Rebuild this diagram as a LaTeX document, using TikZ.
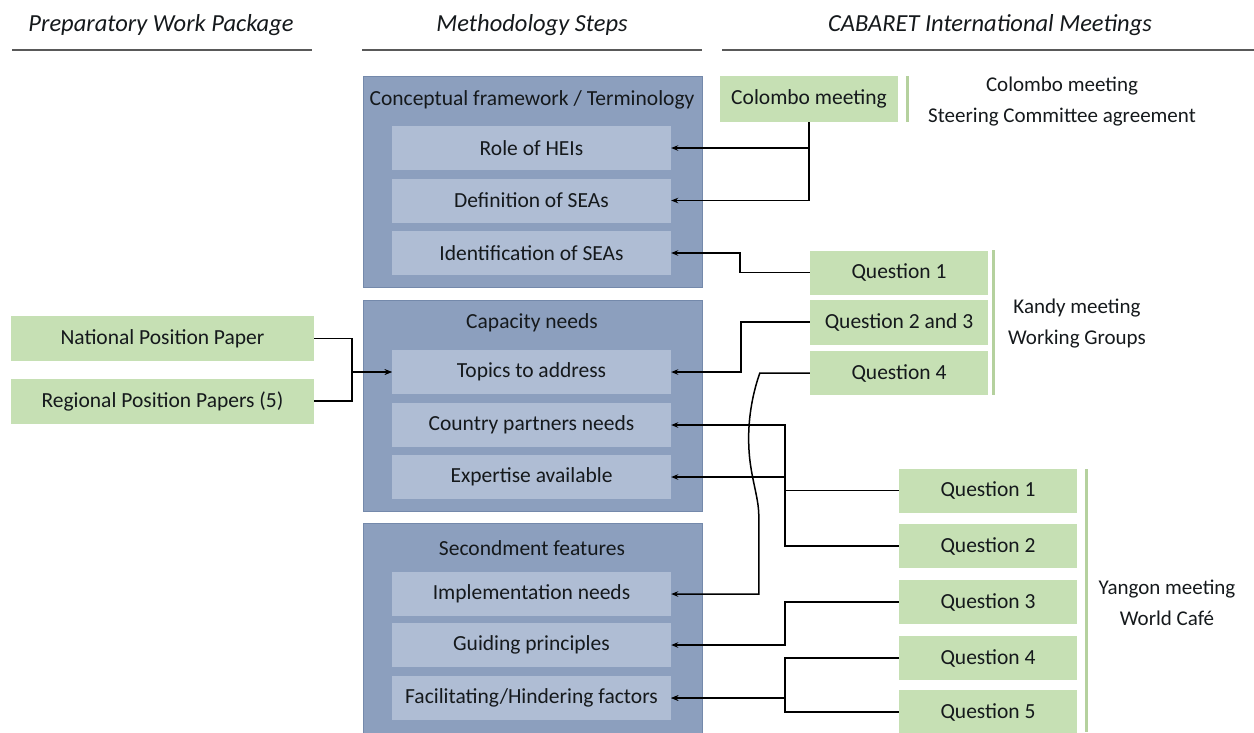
\documentclass[tikz,border=0pt]{standalone}
\usepackage{fontspec}
\setmainfont{Carlito}
\usetikzlibrary{arrows.meta}
\definecolor{bluemid}{HTML}{8C9FBE}
\definecolor{bluedark}{HTML}{7489AB}
\definecolor{bluelight}{HTML}{AFBDD4}
\definecolor{greenfill}{HTML}{C6E0B4}
\definecolor{greenbar}{HTML}{B5D19E}
\definecolor{txt}{HTML}{15191C}
\begin{document}
\begin{tikzpicture}[x=1pt,y=-1pt,
  every node/.style={text=txt, font=\fontsize{21.5}{25}\selectfont, inner sep=0pt},
  outerbox/.style={draw=bluedark, fill=bluemid, line width=1pt, minimum width=339pt},
  innerbox/.style={fill=bluelight, minimum width=279pt, minimum height=44pt},
  greenbox/.style={fill=greenfill, minimum height=45pt},
  header/.style={font=\fontsize{24.5}{28}\selectfont\itshape},
  hline/.style={draw=black!65, line width=1.4pt},
  gbar/.style={draw=greenbar, line width=3pt},
  conn/.style={draw=black, line width=1.5pt},
  arr/.style={-{Stealth[length=7pt,width=5.5pt]}},
  label/.style={align=center, font=\fontsize{21}{31}\selectfont}
]
\useasboundingbox (0,0) rectangle (1254,732);
% headers
\node[header] (h1) at (161,25) {Preparatory Work Package};
\node[header] (h2) at (532,25) {Methodology Steps};
\node[header] (h3) at (990,25) {CABARET International Meetings};
\draw[hline] (12,50) -- (312,50);
\draw[hline] (362,50) -- (702,50);
\draw[hline] (722,50) -- (1254,50);
% outer boxes
\node[outerbox, minimum height=211pt] (b1) at (532.5,181.5) {};
\node[outerbox, minimum height=211pt] (b2) at (532.5,405.5) {};
\node[outerbox, minimum height=210pt] (b3) at (532.5,628) {};
\node (t1) at (532,100) {Conceptual framework / Terminology};
\node (t2) at (532,323) {Capacity needs};
\node (t3) at (532,548) {Secondment features};
% inner boxes
\node[innerbox] (role) at (531.5,148) {Role of HEIs};
\node[innerbox] (defn) at (531.5,200.5) {Definition of SEAs};
\node[innerbox] (ident) at (531.5,253) {Identification of SEAs};
\node[innerbox] (topics) at (531.5,372) {Topics to address};
\node[innerbox] (country) at (531.5,425) {Country partners needs};
\node[innerbox] (expert) at (531.5,477) {Expertise available};
\node[innerbox] (impl) at (531.5,594) {Implementation needs};
\node[innerbox] (guide) at (531.5,645) {Guiding principles};
\node[innerbox] (facil) at (531.5,698) {Facilitating/Hindering factors};
% left green boxes
\node[greenbox, minimum width=303pt] (npp) at (162.5,338.5) {National Position Paper};
\node[greenbox, minimum width=303pt] (rpp) at (162.5,401) {Regional Position Papers (5)};
% Colombo
\node[greenbox, minimum width=178pt, minimum height=46pt] (colombo) at (809,99) {Colombo meeting};
\draw[gbar] (907,76) -- (907,122);
\node[label] (lcol) at (1062,101.5) {Colombo meeting\\Steering Committee agreement};
% Kandy
\node[greenbox, minimum width=178pt, minimum height=44pt] (kq1) at (899,272.5) {Question 1};
\node[greenbox, minimum width=178pt, minimum height=45pt] (kq23) at (899,322) {Question 2 and 3};
\node[greenbox, minimum width=178pt, minimum height=44pt] (kq4) at (899,373) {Question 4};
\draw[gbar] (993,250) -- (993,395);
\node[label] (lkan) at (1077,323.5) {Kandy meeting\\Working Groups};
% Yangon
\node[greenbox, minimum width=178pt, minimum height=44pt] (yq1) at (988,490.5) {Question 1};
\node[greenbox, minimum width=178pt, minimum height=44pt] (yq2) at (988,546) {Question 2};
\node[greenbox, minimum width=178pt, minimum height=44pt] (yq3) at (988,602) {Question 3};
\node[greenbox, minimum width=178pt, minimum height=44pt] (yq4) at (988,658) {Question 4};
\node[greenbox, minimum width=178pt, minimum height=44pt] (yq5) at (988,712) {Question 5};
\draw[gbar] (1086,469) -- (1086,732);
\node[label] (lyan) at (1167,602.5) {Yangon meeting\\World Café};
% connectors
\draw[conn,arr] (npp.east) -- ++(38,0) |- (topics.west);
\draw[conn,arr] (rpp.east) -- ++(38,0) |- (topics.west);
\draw[conn,arr] (colombo.south) |- (role.east);
\draw[conn,arr] (colombo.south) |- (defn.east);
\draw[conn,arr] (kq1.west) -- ++(-70,0) |- (ident.east);
\draw[conn,arr] (kq23.west) -- ++(-69,0) |- (topics.east);
\draw[conn,arr] (kq4.west) -- ++(-50,0) .. controls +(-8,23) and +(-1,-25) .. ++(-11,73)
   .. controls +(1,30) and +(0,-20) .. ++(10,70) |- (impl.east);
\draw[conn,arr] (yq1.west) -- ++(-114,0) |- (expert.east);
\draw[conn,arr] (yq2.west) -- ++(-114,0) |- (country.east);
\draw[conn,arr] (yq3.west) -- ++(-114,0) |- (guide.east);
\draw[conn,arr] (yq4.west) -- ++(-114,0) |- (facil.east);
\draw[conn,arr] (yq5.west) -- ++(-114,0) |- (facil.east);
\end{tikzpicture}
\end{document}
